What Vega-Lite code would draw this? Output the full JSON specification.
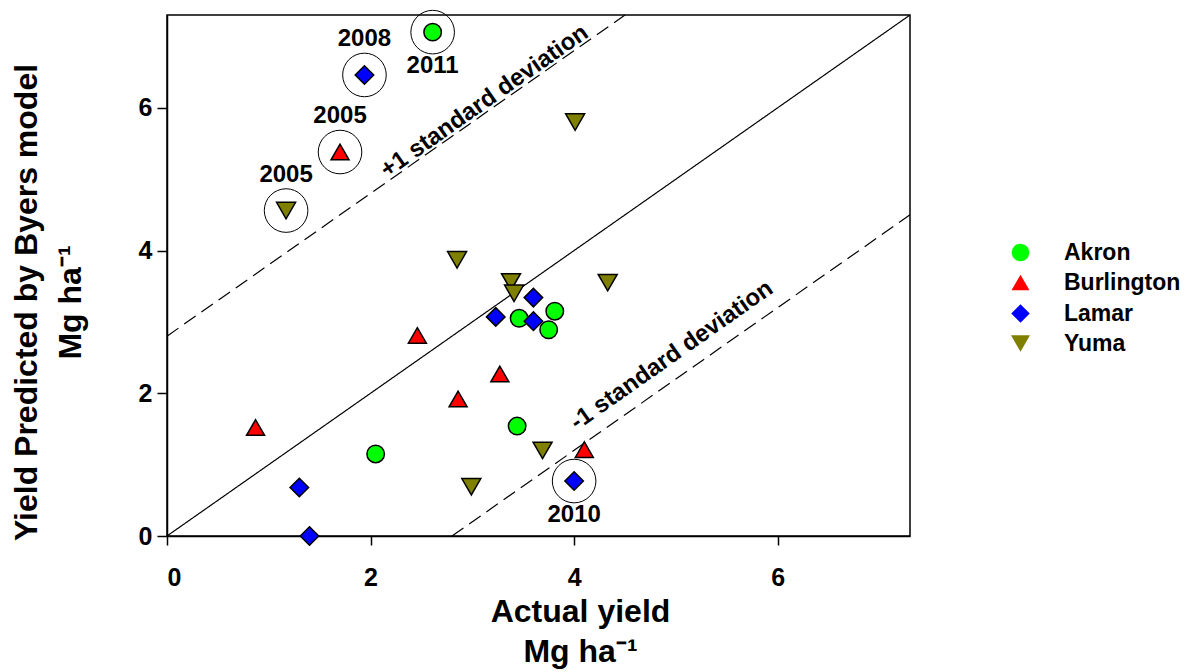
{
  "$schema": "https://vega.github.io/schema/vega-lite/v6.json",
  "width": 743,
  "height": 521,
  "autosize": {"type": "none"},
  "padding": {"left": 167, "top": 15, "right": 284, "bottom": 136},
  "background": "white",
  "config": {
    "font": "Liberation Sans",
    "view": {"stroke": "black", "strokeWidth": 1.5},
    "axis": {
      "grid": false,
      "domainColor": "black",
      "domainWidth": 1.5,
      "tickColor": "black",
      "tickWidth": 1.5,
      "tickSize": 9,
      "labelFont": "Liberation Sans",
      "labelFontWeight": "bold",
      "labelFontSize": 25,
      "labelColor": "black",
      "titleFont": "Liberation Sans",
      "titleFontWeight": "bold",
      "titleFontSize": 32,
      "titleColor": "black"
    },
    "legend": {
      "title": null,
      "padding": 0,
      "labelFont": "Liberation Sans",
      "labelFontSize": 23,
      "labelFontWeight": "bold",
      "labelColor": "black",
      "labelOffset": 32,
      "rowPadding": 6,
      "symbolStrokeColor": "black",
      "symbolStrokeWidth": 1.5,
      "symbolOpacity": 1
    }
  },
  "datasets": {
    "points": [
      {"site": "Akron", "actual": 2.61, "predicted": 7.06},
      {"site": "Akron", "actual": 2.05, "predicted": 1.15},
      {"site": "Akron", "actual": 3.44, "predicted": 1.54},
      {"site": "Akron", "actual": 3.46, "predicted": 3.05},
      {"site": "Akron", "actual": 3.75, "predicted": 2.89},
      {"site": "Akron", "actual": 3.81, "predicted": 3.15},
      {"site": "Burlington", "actual": 1.70, "predicted": 5.38},
      {"site": "Burlington", "actual": 0.87, "predicted": 1.52},
      {"site": "Burlington", "actual": 2.46, "predicted": 2.81},
      {"site": "Burlington", "actual": 2.86, "predicted": 1.92},
      {"site": "Burlington", "actual": 3.27, "predicted": 2.27},
      {"site": "Burlington", "actual": 4.10, "predicted": 1.21},
      {"site": "Lamar", "actual": 1.94, "predicted": 6.46},
      {"site": "Lamar", "actual": 1.30, "predicted": 0.68},
      {"site": "Lamar", "actual": 1.40, "predicted": 0.00},
      {"site": "Lamar", "actual": 3.23, "predicted": 3.07},
      {"site": "Lamar", "actual": 3.60, "predicted": 3.34},
      {"site": "Lamar", "actual": 3.60, "predicted": 3.01},
      {"site": "Lamar", "actual": 4.00, "predicted": 0.77},
      {"site": "Yuma", "actual": 1.17, "predicted": 4.56},
      {"site": "Yuma", "actual": 4.01, "predicted": 5.80},
      {"site": "Yuma", "actual": 2.85, "predicted": 3.87},
      {"site": "Yuma", "actual": 3.38, "predicted": 3.56},
      {"site": "Yuma", "actual": 3.41, "predicted": 3.40},
      {"site": "Yuma", "actual": 4.33, "predicted": 3.55},
      {"site": "Yuma", "actual": 3.69, "predicted": 1.20},
      {"site": "Yuma", "actual": 2.99, "predicted": 0.69}
    ],
    "lines": [
      {"line": "1:1", "actual": 0, "predicted": 0},
      {"line": "1:1", "actual": 7.3, "predicted": 7.3},
      {"line": "+1 SD", "actual": 0, "predicted": 2.8},
      {"line": "+1 SD", "actual": 4.5, "predicted": 7.3},
      {"line": "-1 SD", "actual": 2.8, "predicted": 0},
      {"line": "-1 SD", "actual": 7.3, "predicted": 4.5}
    ],
    "highlights": [
      {"site": "Akron", "year": 2011, "actual": 2.61, "predicted": 7.06},
      {"site": "Lamar", "year": 2008, "actual": 1.94, "predicted": 6.46},
      {"site": "Burlington", "year": 2005, "actual": 1.70, "predicted": 5.38},
      {"site": "Yuma", "year": 2005, "actual": 1.17, "predicted": 4.56},
      {"site": "Lamar", "year": 2010, "actual": 4.00, "predicted": 0.77}
    ],
    "notes": [
      {"note": "+1 standard deviation", "actual": 3.12, "predicted": 6.09},
      {"note": "-1 standard deviation", "actual": 4.96, "predicted": 2.53}
    ]
  },
  "layer": [
    {
      "data": {"name": "lines"},
      "mark": {"type": "line", "color": "black", "strokeWidth": 1.2},
      "encoding": {
        "x": {
          "field": "actual", "type": "quantitative",
          "scale": {"domain": [0, 7.3], "nice": false, "zero": false},
          "axis": {
            "values": [0, 2, 4, 6],
            "format": "d",
            "labelPadding": 20,
            "title": ["Actual yield", "Mg ha⁻¹"],
            "titleX": 413,
            "titleY": 60,
            "titleBaseline": "top",
            "titleLineHeight": 40
          }
        },
        "y": {
          "field": "predicted", "type": "quantitative",
          "scale": {"domain": [0, 7.3], "nice": false, "zero": false},
          "axis": {
            "values": [0, 2, 4, 6],
            "format": "d",
            "tickSize": 10,
            "labelPadding": 5,
            "title": ["Yield Predicted by Byers model", "Mg ha⁻¹"],
            "titleAngle": -90,
            "titleX": -124,
            "titleY": 287,
            "titleBaseline": "bottom",
            "titleLineHeight": 44
          }
        },
        "detail": {"field": "line"},
        "strokeDash": {
          "field": "line", "type": "nominal",
          "scale": {"domain": ["1:1", "+1 SD", "-1 SD"], "range": [[1, 0], [14, 7], [14, 7]]},
          "legend": null
        }
      }
    },
    {
      "data": {"name": "notes"},
      "mark": {"type": "text", "angle": -35.1, "align": "center", "baseline": "middle", "font": "Liberation Sans", "fontWeight": "bold", "fontSize": 24, "color": "black"},
      "encoding": {
        "x": {"field": "actual", "type": "quantitative"},
        "y": {"field": "predicted", "type": "quantitative"},
        "text": {"field": "note"}
      }
    },
    {
      "data": {"name": "points"},
      "mark": {"type": "point", "filled": true, "stroke": "black", "strokeWidth": 1.5, "strokeOpacity": 1, "fillOpacity": 1, "opacity": 1},
      "encoding": {
        "x": {"field": "actual", "type": "quantitative"},
        "y": {"field": "predicted", "type": "quantitative"},
        "fill": {
          "field": "site", "type": "nominal",
          "scale": {"domain": ["Akron", "Burlington", "Lamar", "Yuma"], "range": ["#00ff00", "#ff0000", "#0000ff", "#808000"]},
          "legend": {"orient": "none", "legendX": 842, "legendY": 226}
        },
        "shape": {
          "field": "site", "type": "nominal",
          "scale": {"domain": ["Akron", "Burlington", "Lamar", "Yuma"], "range": ["circle", "triangle-up", "diamond", "triangle-down"]},
          "legend": {"orient": "none", "legendX": 842, "legendY": 226}
        },
        "size": {
          "field": "site", "type": "nominal",
          "scale": {"domain": ["Akron", "Burlington", "Lamar", "Yuma"], "range": [306, 361, 441, 340]},
          "legend": {"orient": "none", "legendX": 842, "legendY": 226}
        }
      }
    },
    {
      "data": {"name": "highlights"},
      "mark": {"type": "point", "shape": "circle", "filled": false, "size": 1900, "stroke": "black", "strokeWidth": 1, "opacity": 1},
      "encoding": {
        "x": {"field": "actual", "type": "quantitative"},
        "y": {"field": "predicted", "type": "quantitative"}
      }
    },
    {
      "data": {"name": "highlights"},
      "transform": [{"filter": "datum.year < 2010"}],
      "mark": {"type": "text", "dy": -36, "align": "center", "baseline": "middle", "font": "Liberation Sans", "fontWeight": "bold", "fontSize": 24, "color": "black"},
      "encoding": {
        "x": {"field": "actual", "type": "quantitative"},
        "y": {"field": "predicted", "type": "quantitative"},
        "text": {"field": "year", "type": "nominal"}
      }
    },
    {
      "data": {"name": "highlights"},
      "transform": [{"filter": "datum.year >= 2010"}],
      "mark": {"type": "text", "dy": 34, "align": "center", "baseline": "middle", "font": "Liberation Sans", "fontWeight": "bold", "fontSize": 24, "color": "black"},
      "encoding": {
        "x": {"field": "actual", "type": "quantitative"},
        "y": {"field": "predicted", "type": "quantitative"},
        "text": {"field": "year", "type": "nominal"}
      }
    }
  ]
}
